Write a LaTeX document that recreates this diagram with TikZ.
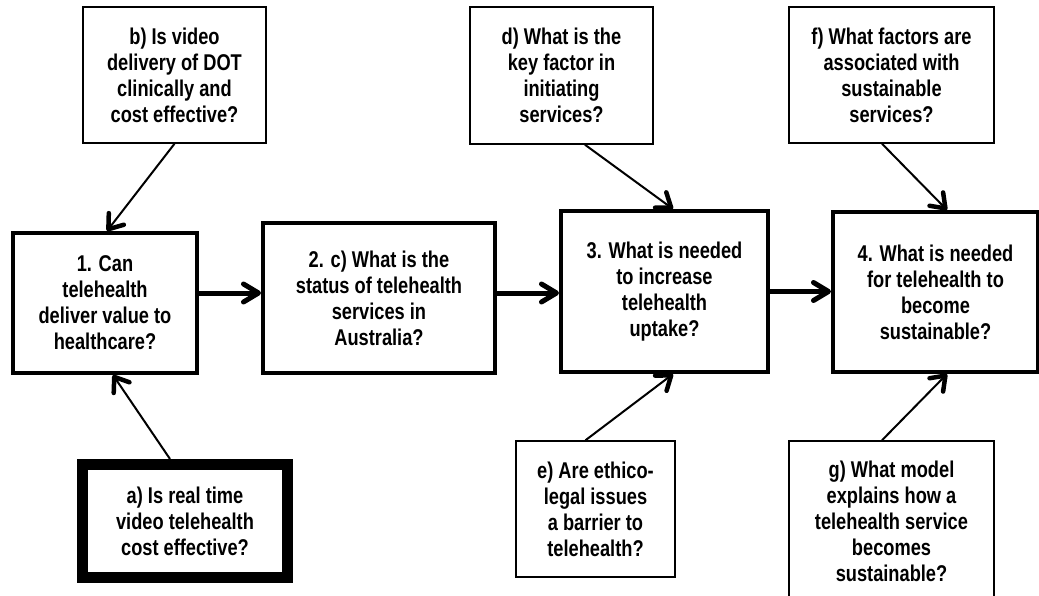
\documentclass[tikz,border=0pt]{standalone}
\usepackage{fontspec}
\newfontfamily\qfont{Liberation Sans}[FakeStretch=0.8]
\usepackage{tikz}
\usetikzlibrary{arrows.meta}

\begin{document}
\begin{tikzpicture}[x=1pt, y=-1pt]
\tikzstyle{main} = [rectangle, draw=black, line width=4pt, align=center, inner sep=0pt, font=\qfont\bfseries\fontsize{22.8}{26}\selectfont]
\tikzstyle{sub}  = [main, line width=1.5pt]
\tikzstyle{key}  = [main, line width=11pt]
\tikzstyle{flow} = [-{Straight Barb[round, length=15pt, width=18pt, line width=5pt]}, line width=5pt]
\tikzstyle{feed} = [-{Straight Barb[round, length=13pt, width=19pt, line width=4.5pt]}, line width=2pt]
\useasboundingbox (0,0) rectangle (1039,596);
\clip (0,0) rectangle (1039,596);
\fill[white] (0,0) rectangle (1039,596);
% the four main questions
\node[main, minimum width=184pt, minimum height=140pt] at (105.0, 303.0) (q1){1. Can\\telehealth\\deliver value to\\healthcare?};
\node[main, minimum width=232pt, minimum height=150pt] at (379.0, 298.0) (q2){2. c) What is the\\status of telehealth\\services in\\Australia?};
\node[main, minimum width=207pt, minimum height=161pt] at (664.5, 291.5) (q3){3. What is needed\\to increase\\telehealth\\uptake?};
\node[main, minimum width=205pt, minimum height=160pt] at (935.5, 292.0) (q4){4. What is needed\\for telehealth to\\become\\sustainable?};
% the sub questions
\node[key, minimum width=205pt, minimum height=113pt] at (185.0, 521.0) (qa){a) Is real time\\video telehealth\\cost effective?};
\node[sub, minimum width=183pt, minimum height=136pt] at (174.5, 75.0) (qb){b) Is video\\delivery of DOT\\clinically and\\cost effective?};
\node[sub, minimum width=183pt, minimum height=137pt] at (561.5, 75.5) (qd){d) What is the\\key factor in\\initiating\\services?};
\node[sub, minimum width=159pt, minimum height=136pt] at (595.5, 509.0) (qe){e) Are ethico-\\legal issues\\a barrier to\\telehealth?};
\node[sub, minimum width=205pt, minimum height=136pt] at (891.5, 75.0) (qf){f) What factors are\\associated with\\sustainable\\services?};
\node[sub, minimum width=205pt, minimum height=161pt] at (891.5, 521.5) (qg){g) What model\\explains how a\\telehealth service\\becomes\\sustainable?};
% main chain
\draw[flow] ([yshift=10pt]q1.east) -- ([yshift=5pt]q2.west);
\draw[flow] ([yshift=5pt]q2.east) -- ([yshift=5pt]q2.east -| q3.west);
\draw[flow] (q3.east) -- (q3.east -| q4.west);
% feeding questions
\draw[feed] (qb.south) -- ([xshift=2pt]q1.north);
\draw[feed] ([xshift=-15pt]qa.north) -- ([xshift=8pt]q1.south);
\draw[feed] ([xshift=23.5pt]qd.south) -- ([xshift=8.5pt]q3.north);
\draw[feed] ([xshift=-10pt]qe.north) -- ([xshift=8.5pt]q3.south);
\draw[feed] ([xshift=-9.5pt]qf.south) -- ([xshift=11.5pt]q4.north);
\draw[feed] ([xshift=-9.5pt]qg.north) -- ([xshift=11.5pt]q4.south);
\end{tikzpicture}
\end{document}
